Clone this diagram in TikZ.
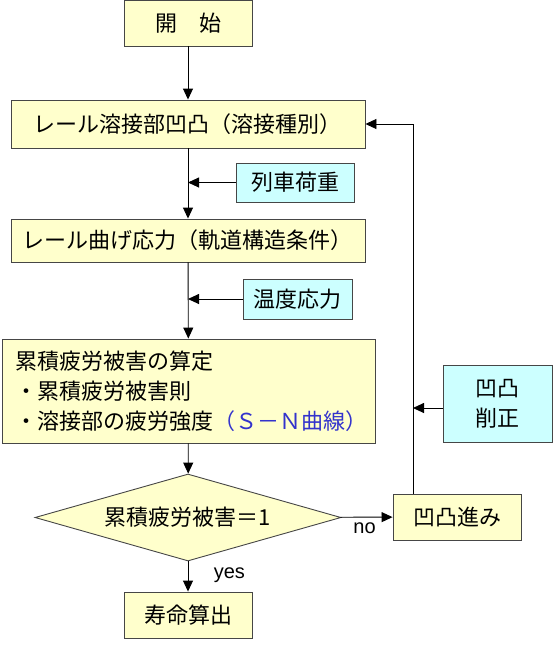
\documentclass[tikz,border=0pt]{standalone}
\usepackage{fontspec}
\setmainfont{Noto Sans CJK JP}
\newfontfamily\latinfont{Liberation Sans}
\usetikzlibrary{shapes.geometric,arrows.meta}
\definecolor{boxfill}{RGB}{255,255,204}
\definecolor{tealfill}{RGB}{204,255,255}
\definecolor{edge}{RGB}{70,70,70}
\definecolor{snblue}{RGB}{51,51,204}
\begin{document}
\begin{tikzpicture}[x=1pt,y=-1pt,
  font=\fontsize{22}{30}\selectfont,
  ybox/.style={draw=edge,fill=boxfill,line width=0.9pt,inner sep=0pt,anchor=center},
  tbox/.style={draw=edge,fill=tealfill,line width=0.9pt,inner sep=0pt,anchor=center,align=center},
  conn/.style={line width=0.9pt,-{Triangle[length=11pt,width=10pt]}},
  lbl/.style={font=\latinfont\fontsize{20}{22}\selectfont}]
\useasboundingbox (0,0) rectangle (554,646);
\node[ybox,minimum width=128,minimum height=46] (start) at (188,23) {開　始};
\node[ybox,minimum width=354,minimum height=48] (dent) at (188,124) {レール溶接部凹凸（溶接種別）};
\node[tbox,minimum width=118,minimum height=39] (load) at (295,182.5) {列車荷重};
\node[ybox,minimum width=354,minimum height=43] (bend) at (188,240.5) {レール曲げ応力（軌道構造条件）};
\node[tbox,minimum width=109,minimum height=40] (temp) at (297.5,299) {温度応力};
\node[ybox,minimum width=373,minimum height=104,text width=345,inner xsep=14pt,align=left] (calc) at (188.5,391)
  {累積疲労被害の算定\\・累積疲労被害則\\・溶接部の疲労強度\textcolor{snblue}{（Ｓ－Ｎ曲線）}};
\node[diamond,draw=edge,fill=boxfill,line width=0.9pt,inner sep=0pt,minimum width=306,minimum height=87,aspect=3.5] (dec) at (188,517.5) {累積疲労被害＝1};
\node[ybox,minimum width=128,minimum height=46] (prog) at (457,517) {凹凸進み};
\node[tbox,minimum width=109,minimum height=77] (grind) at (497.5,403.5) {凹凸\\削正};
\node[ybox,minimum width=128,minimum height=46] (life) at (188,615) {寿命算出};
\coordinate (loadin) at (188,182.5);
\coordinate (tempin) at (188,299);
\coordinate (progtop) at (413,494);
\coordinate (corner) at (413,124);
\coordinate (grindin) at (413,408);
\draw[conn] (start) -- (dent);
\draw[conn] (dent) -- (bend);
\draw[conn] (load) -- (loadin);
\draw[conn] (bend) -- (calc);
\draw[conn] (temp) -- (tempin);
\draw[conn] (calc) -- (dec);
\draw[conn] (dec) -- node[lbl,right,xshift=22pt,yshift=1pt]{yes} (life);
\draw[conn] (dec) -- node[lbl,below,xshift=-2pt,yshift=-2pt]{no} (prog);
\draw[conn] (progtop) -- (corner) -- (dent.east);
\draw[conn] (grind.west |- grindin) -- (grindin);
\end{tikzpicture}
\end{document}
